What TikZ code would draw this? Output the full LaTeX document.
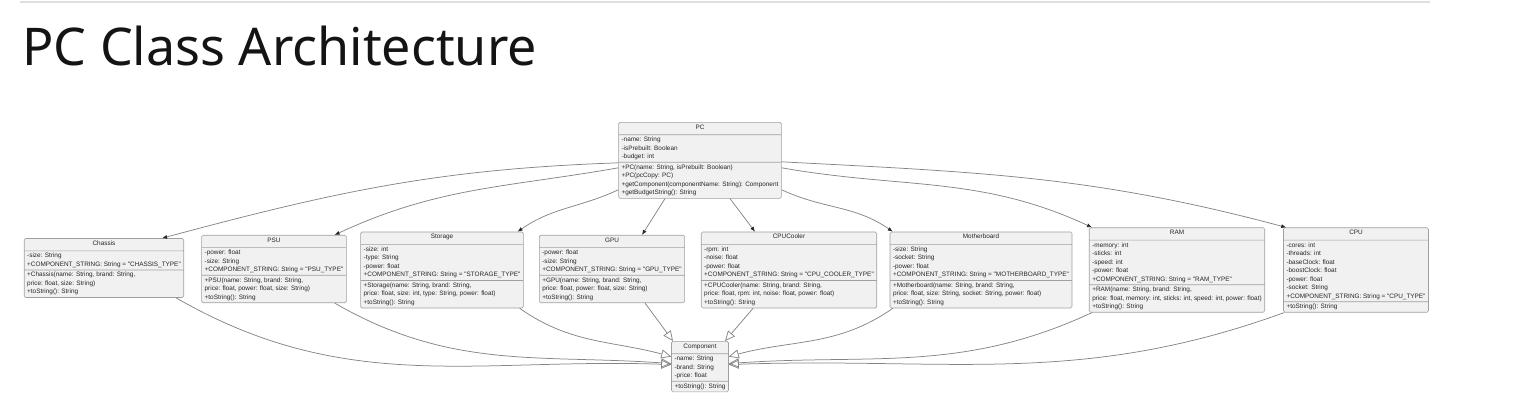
\documentclass[tikz,border=0pt]{standalone}
\usepackage{xcolor}
\usepackage{fontspec}
\usepackage{tikz}
\usetikzlibrary{calc,shapes.multipart,arrows,arrows.meta}
\newfontfamily\umlfont{Liberation Sans}
\newfontfamily\titlefont{Noto Sans}
\definecolor{boxfill}{HTML}{F1F1F1}
\definecolor{boxline}{HTML}{A0A0A0}
\definecolor{umltext}{HTML}{262626}
\definecolor{edgegray}{HTML}{858585}
\newcommand\classhead[1]{\rule[-3.2pt]{0pt}{7.8pt}#1}

\begin{document}
\begin{tikzpicture}[x=1pt,y=1pt]
                \tikzstyle{umlclass}=[draw=boxline, fill=boxfill, rounded corners=1.5pt, line width=0.6pt,
                  rectangle split, rectangle split parts=3, rectangle split part align={center,left,left},
                  align=left, inner xsep=3pt, inner ysep=2pt, text=umltext,
                  font=\umlfont\fontsize{6.4}{8.5}\selectfont]
                \tikzstyle{assoc}=[draw=edgegray, line width=0.75pt, -{Latex[length=5pt,width=4pt,color=black!85]}]
                \tikzstyle{inherit}=[draw=edgegray, line width=0.75pt, -{Triangle[open,length=10pt,width=9pt]}]
                \useasboundingbox (0,0) rectangle (1524,-410);
                \draw [gray!25, line width=2pt] (20,-1.5) -- (1430,-1.5);
                \node (title) [anchor=base west, inner sep=0pt, text=black!92,
                  font=\titlefont\fontsize{52}{60}\selectfont] at (22,-65) {PC Class Architecture};
                \node (PC) [umlclass, anchor=north] at (700,-122) {\classhead{PC}
                  \nodepart{two} -name: String\\-isPrebuilt: Boolean\\-budget: int
                  \nodepart{three} +PC(name: String, isPrebuilt: Boolean)\\+PC(pcCopy: PC)\\+getComponent(componentName: String): Component\\+getBudgetString(): String};
                \node (Chassis) [umlclass] at (104,-268) {\classhead{Chassis}
                  \nodepart{two} -size: String\\+COMPONENT\_STRING: String = "CHASSIS\_TYPE"
                  \nodepart{three} +Chassis(name: String, brand: String,\\price: float, size: String)\\+toString(): String};
                \node (PSU) [umlclass] at (274,-269) {\classhead{PSU}
                  \nodepart{two} -power: float\\-size: String\\+COMPONENT\_STRING: String = "PSU\_TYPE"
                  \nodepart{three} +PSU(name: String, brand: String,\\price: float, power: float, size: String)\\+toString(): String};
                \node (Storage) [umlclass] at (442,-270) {\classhead{Storage}
                  \nodepart{two} -size: int\\-type: String\\-power: float\\+COMPONENT\_STRING: String = "STORAGE\_TYPE"
                  \nodepart{three} +Storage(name: String, brand: String,\\price: float, size: int, type: String, power: float)\\+toString(): String};
                \node (GPU) [umlclass] at (612,-269) {\classhead{GPU}
                  \nodepart{two} -power: float\\-size: String\\+COMPONENT\_STRING: String = "GPU\_TYPE"
                  \nodepart{three} +GPU(name: String, brand: String,\\price: float, power: float, size: String)\\+toString(): String};
                \node (CPUCooler) [umlclass] at (789,-270) {\classhead{CPUCooler}
                  \nodepart{two} -rpm: int\\-noise: float\\-power: float\\+COMPONENT\_STRING: String = "CPU\_COOLER\_TYPE"
                  \nodepart{three} +CPUCooler(name: String, brand: String,\\price: float, rpm: int, noise: float, power: float)\\+toString(): String};
                \node (Motherboard) [umlclass] at (981,-270) {\classhead{Motherboard}
                  \nodepart{two} -size: String\\-socket: String\\-power: float\\+COMPONENT\_STRING: String = "MOTHERBOARD\_TYPE"
                  \nodepart{three} +Motherboard(name: String, brand: String,\\price: float, size: String, socket: String, power: float)\\+toString(): String};
                \node (RAM) [umlclass] at (1177,-270) {\classhead{RAM}
                  \nodepart{two} -memory: int\\-sticks: int\\-speed: int\\-power: float\\+COMPONENT\_STRING: String = "RAM\_TYPE"
                  \nodepart{three} +RAM(name: String, brand: String,\\price: float, memory: int, sticks: int, speed: int, power: float)\\+toString(): String};
                \node (CPU) [umlclass] at (1356,-270) {\classhead{CPU}
                  \nodepart{two} -cores: int\\-threads: int\\-baseClock: float\\-boostClock: float\\-power: float\\-socket: String\\+COMPONENT\_STRING: String = "CPU\_TYPE"
                  \nodepart{three} +toString(): String};
                \node (Component) [umlclass, anchor=north] at (700,-341) {\classhead{Component}
                  \nodepart{two} -name: String\\-brand: String\\-price: float
                  \nodepart{three} +toString(): String};
                \draw [assoc] ([yshift=-2.5pt]PC.west) to[out=182,in=15] ([xshift=-22pt]Chassis.north east);
                \draw [assoc] ([yshift=-7.5pt]PC.west) to[out=190,in=25] ([xshift=-12pt]PSU.north east);
                \draw [assoc] ([yshift=-29.5pt]PC.west) to[out=205,in=35] ([xshift=-6pt]Storage.north east);
                \draw [assoc] ([xshift=-35pt]PC.south) -- ([xshift=30pt]GPU.north);
                \draw [assoc] ([xshift=30pt]PC.south) -- ([xshift=-34pt]CPUCooler.north);
                \draw [assoc] ([yshift=-29.5pt]PC.east) to[out=-25,in=145] ([xshift=3pt]Motherboard.north west);
                \draw [assoc] ([yshift=-7.5pt]PC.east) to[out=-10,in=155] ([xshift=3pt]RAM.north west);
                \draw [assoc] ([yshift=-1.5pt]PC.east) to[out=-3,in=165] ([xshift=3pt]CPU.north west);
                \draw [inherit] ([xshift=-8pt]Chassis.south east) to[out=-30,in=178] ([yshift=2pt]Component.west);
                \draw [inherit] ([xshift=-12pt]PSU.south east) to[out=-30,in=176] ([yshift=3pt]Component.west);
                \draw [inherit] ([xshift=-4pt]Storage.south east) to[out=-35,in=165] ([yshift=10pt]Component.west);
                \draw [inherit] ([xshift=33pt]GPU.south) -- ([xshift=-27pt]Component.north);
                \draw [inherit] ([xshift=-36pt]CPUCooler.south) -- ([xshift=25pt]Component.north);
                \draw [inherit] ([xshift=3pt]Motherboard.south west) to[out=-145,in=15] ([yshift=10pt]Component.east);
                \draw [inherit] ([xshift=3pt]RAM.south west) to[out=-155,in=4] ([yshift=3pt]Component.east);
                \draw [inherit] ([xshift=1pt]CPU.south west) to[out=-160,in=2] ([yshift=2pt]Component.east);
\end{tikzpicture}
\end{document}
